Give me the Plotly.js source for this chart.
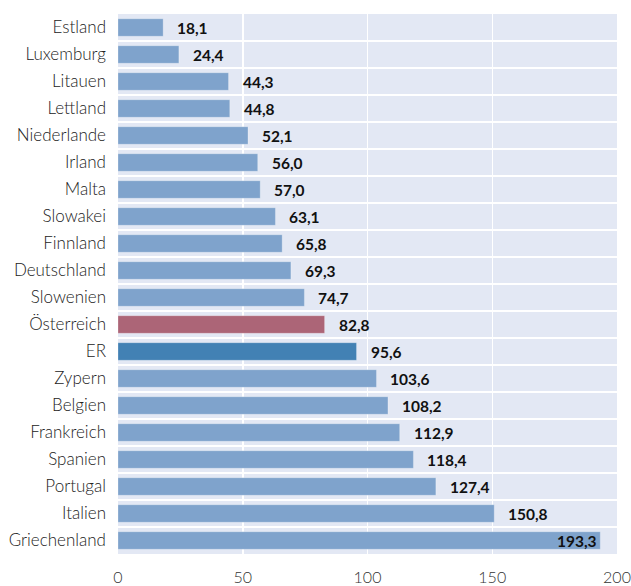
<!DOCTYPE html>
<html>
<head>
<meta charset="utf-8">
<script src="https://cdn.plot.ly/plotly-3.0.1.min.js"></script>
<style>html,body{margin:0;padding:0;background:#fff;}#chart{width:631px;height:586px;}</style>
</head>
<body>
<div id="chart"></div>
<script>
const countries = ["Estland","Luxemburg","Litauen","Lettland","Niederlande","Irland","Malta","Slowakei","Finnland","Deutschland","Slowenien","Österreich","ER","Zypern","Belgien","Frankreich","Spanien","Portugal","Italien","Griechenland"];
const values = [18.1,24.4,44.3,44.8,52.1,56.0,57.0,63.1,65.8,69.3,74.7,82.8,95.6,103.6,108.2,112.9,118.4,127.4,150.8,193.3];
const xTicks = [0,50,100,150,200];

const baseColor = "#7fa3cc";
const colorMap = {"Österreich":"#ac6577","ER":"#4281b4"};
const colors = countries.map(c => colorMap[c] || baseColor);
const fmt = v => v.toFixed(1).replace(".", ",");
const maxV = Math.max(...values);

const trace = {
  type: "bar",
  orientation: "h",
  x: values,
  y: countries,
  width: 0.65,
  marker: {color: colors, line: {color: "rgba(255,255,255,0.25)", width: 1}},
  hoverinfo: "none"
};

const annotations = values.map((v, i) => {
  const inside = v === maxV;
  return {
    x: v, y: countries[i], xref: "x", yref: "y",
    text: fmt(v), showarrow: false,
    xanchor: inside ? "right" : "left",
    xshift: inside ? -1 : 12,
    font: {family: "Lato, sans-serif", size: 15.5, weight: 700, color: "#111"}
  };
});

const layout = {
  width: 631, height: 586,
  margin: {l: 118, r: 14, t: 14, b: 32, pad: 0},
  paper_bgcolor: "#ffffff",
  plot_bgcolor: "#e3e8f4",
  showlegend: false,
  xaxis: {
    range: [0, 200],
    tickvals: xTicks,
    ticktext: xTicks.map(String),
    showgrid: true, gridcolor: "#ffffff", gridwidth: 1.5,
    zeroline: false, showline: false,
    ticks: "", ticklabelstandoff: 12,
    tickfont: {family: "Lato, sans-serif", size: 16, weight: 300, color: "#333"}
  },
  yaxis: {
    type: "category",
    categoryorder: "array", categoryarray: countries,
    range: [countries.length - 0.5, -0.5],
    tickson: "boundaries",
    showgrid: true, gridcolor: "#ffffff", gridwidth: 1.5,
    zeroline: false, showline: false,
    ticks: "", ticklabelstandoff: 11,
    tickfont: {family: "Lato, sans-serif", size: 17, weight: 300, color: "#222"}
  },
  annotations: annotations
};

Plotly.newPlot("chart", [trace], layout, {displayModeBar: false, staticPlot: true});
</script>
</body>
</html>
